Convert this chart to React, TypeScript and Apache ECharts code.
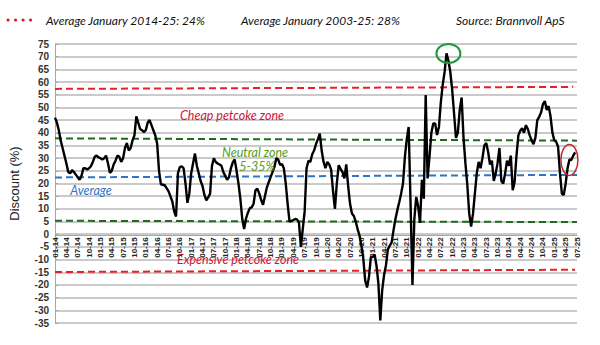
import React, { useEffect, useRef } from "react";
import * as echarts from "echarts";

// Half-monthly observations, Jan 2014 .. Jul 2025 (discount, %)
const discount: number[] = [
  46, 44, 41, 37, 34, 31, 28, 24.5, 24, 25.3, 24.5, 23.5,
  22.5, 21.5, 23, 26, 26, 25.5, 26, 26.8, 28.5, 30.5, 31, 30.3,
  30, 29.5, 30, 31, 28, 24.2, 25, 27.5, 29, 31, 30.5, 28.5,
  30, 34, 36, 33, 34, 37, 39, 46.5, 44, 41.5, 41, 40.3,
  41, 44, 45, 43, 41, 39, 35.8, 25, 19.7, 19.5, 19.3, 18.2,
  17, 15, 13, 9, 7, 24, 26.5, 26.8, 26, 20, 12.4, 16,
  24, 28, 31.8, 27, 24, 21, 19, 15.5, 13.4, 14.5, 16, 27,
  29.9, 28.5, 27.9, 27.5, 27, 24.5, 23, 21.5, 22.5, 26, 28.3, 29.5,
  25, 20, 14, 6, 2, 6.2, 8.5, 10.3, 10.6, 12, 17.4, 18,
  16, 13.5, 11.6, 15, 18.4, 20.5, 22.5, 24.5, 26.5, 30, 29.5, 27.3,
  27.7, 26, 20, 12, 5, 5.3, 5.6, 6, 5.8, 4.5, -5, 2,
  9, 26, 29, 28.5, 31.5, 33, 35.5, 37.5, 39.7, 33, 28.5, 26,
  28.5, 27.5, 25.5, 17, 10, 20, 27.2, 25.8, 24.5, 22, 27.5, 19,
  12, 8.2, 7.2, 5, 2, -0.5, -4.5, -9.5, -18.2, -21, -16.8, -9,
  -9, -8, -12.5, -19.5, -34, -22, -16, -12.2, -6, -4.5, -3.2, 1.6,
  6, 9.5, 12.6, 16, 20, 30.5, 37.5, 42.3, 12, -20, 6, 14.7,
  11, 4.5, 21.5, 14, 54.9, 22, 30.5, 40, 43.7, 43.7, 39.1, 42.3,
  52, 59, 64, 71.3, 68.5, 64, 57, 47.6, 38, 40, 49, 53.9,
  38, 28, 19.5, 8.2, 3, 8, 16, 24, 28.5, 26, 30, 35,
  36, 32.5, 27.5, 29, 21, 24, 28, 34, 21, 20, 24, 29,
  27, 31, 17.4, 20.5, 31, 39, 40.8, 41.8, 40, 43, 41.5, 39,
  37, 35.5, 38, 45, 46.3, 48, 51.3, 52.5, 49, 50.5, 46.5, 40,
  37, 36.4, 34.5, 24, 16, 15.5, 20, 26, 29.5, 29.2, 31, 32.3,
];

const firstYear = 2014;
const periodCount = 277; // half-month slots, Jan 2014 .. first half Jul 2025

// Reference lines (start value, end value)
const refNames = ["Cheap", "NeutralHigh", "Average", "NeutralLow", "Expensive"];
const refStart = [57.3, 37.8, 22.4, 5.3, -14.9];
const refEnd = [58.1, 36.9, 23.4, 4.8, -14.0];
const refEndIdx = [274, 276, 276, 276, 275];
const refColors = ["#e8202a", "#1d6b1d", "#2f74c7", "#1d6b1d", "#e8202a"];

// Highlight ellipses (category index, value)
const peakMark = [208, 71.3];
const latestMark = [271.8, 29.3];

const yTicks = { min: -35, max: 75, interval: 5 };

function buildCategories(): string[] {
  const cats: string[] = [];
  for (let i = 0; i < periodCount; i++) {
    const m = Math.floor(i / 2);
    const y = firstYear + Math.floor(m / 12);
    const mm = (m % 12) + 1;
    cats.push(
      String(mm).padStart(2, "0") + "-" + String(y % 100).padStart(2, "0") + (i % 2 ? "b" : "a")
    );
  }
  return cats;
}

export default function App() {
  const ref = useRef<HTMLDivElement>(null);
  useEffect(() => {
    const chart = echarts.init(ref.current!, undefined, { renderer: "svg" });
    const categories = buildCategories();
    const markData = refNames.map((n, i) => [
      { coord: [0, refStart[i]], lineStyle: { color: refColors[i] } },
      { coord: [refEndIdx[i], refEnd[i]] },
    ]);
    chart.setOption({
      animation: false,
      backgroundColor: "#ffffff",
      grid: { left: 54, right: 23, top: 44, bottom: 22 },
      xAxis: {
        type: "category",
        data: categories,
        boundaryGap: false,
        position: "bottom",
        axisLine: { onZero: false, lineStyle: { color: "#a6a6a6", width: 1 } },
        axisTick: { show: false },
        splitLine: { show: false },
        axisLabel: {
          rotate: 90,
          interval: (idx: number) => idx % 6 === 0,
          formatter: (v: string) => v.slice(0, 5),
          showMinLabel: true,
          showMaxLabel: true,
          hideOverlap: false,
          fontSize: 8,
          fontWeight: "bold",
          fontFamily: "Liberation Sans",
          color: "#222",
          margin: 2,
        },
      },
      yAxis: {
        type: "value",
        min: yTicks.min,
        max: yTicks.max,
        interval: yTicks.interval,
        name: "Discount (%)",
        nameLocation: "middle",
        nameGap: 34,
        nameTextStyle: { fontSize: 13, color: "#222", fontFamily: "Liberation Sans" },
        axisLine: { show: true, lineStyle: { color: "#a6a6a6" } },
        axisTick: { show: true, inside: true, length: 3, lineStyle: { color: "#a6a6a6" } },
        splitLine: { lineStyle: { color: "#b9b9b9", width: 1.5 } },
        axisLabel: {
          fontSize: 10,
          fontWeight: "bold",
          fontFamily: "Liberation Sans",
          color: "#333",
          margin: 6,
        },
      },
      series: [
        {
          type: "line",
          data: discount,
          symbol: "none",
          lineStyle: { color: "#000", width: 2.4 },
          z: 5,
          markLine: {
            silent: true,
            symbol: ["none", "none"],
            label: { show: false },
            lineStyle: { type: [7, 4], width: 2 },
            data: markData,
            z: 3,
          },
        },
      ],
    });

    // move the category axis up to the zero line
    const yZero = chart.convertToPixel({ yAxisIndex: 0 }, 0) as number;
    const yBottom = chart.convertToPixel({ yAxisIndex: 0 }, yTicks.min) as number;
    chart.setOption({ xAxis: { offset: -(yBottom - yZero) } });

    const p1 = chart.convertToPixel({ gridIndex: 0 }, peakMark) as number[];
    const p2 = chart.convertToPixel({ gridIndex: 0 }, latestMark) as number[];
    const italic = (text: string, x: number, y: number, fill: string, size = 12, align = "center") => ({
      type: "text",
      x,
      y,
      style: {
        text,
        fill,
        fontSize: size,
        fontStyle: "italic",
        fontFamily: "Lato",
        align,
        verticalAlign: "middle",
      },
      z: 10,
    });
    chart.setOption({
      graphic: [
        {
          type: "line",
          shape: { x1: 8, y1: 20, x2: 38, y2: 20 },
          style: { stroke: "#d7191f", lineWidth: 3, lineDash: [0.1, 7.4], lineCap: "round" },
        },
        italic("Average January 2014-25: 24%", 46, 20, "#111", 12, "left"),
        italic("Average January 2003-25: 28%", 241, 20, "#111", 12, "left"),
        italic("Source: Brannvoll ApS", 456, 20, "#111", 12, "left"),
        italic("Cheap petcoke zone", 232, 115, "#d1153b", 12.5),
        italic("Neutral zone", 255, 152, "#559c20", 12.5),
        italic("5-35%", 257, 166, "#559c20", 12.5),
        italic("Average", 91, 190, "#2f74c7", 12.5),
        italic("Expensive petcoke zone", 238, 259, "#d1153b", 12.5),
        {
          type: "ellipse",
          shape: { cx: p1[0], cy: p1[1], rx: 12, ry: 9.5 },
          style: { fill: "none", stroke: "#1a9a3a", lineWidth: 2 },
          z: 10,
        },
        {
          type: "ellipse",
          shape: { cx: p2[0], cy: p2[1], rx: 8.5, ry: 15.5 },
          style: { fill: "none", stroke: "#c0282d", lineWidth: 1.5 },
          z: 10,
        },
      ],
    });
    return () => chart.dispose();
  }, []);
  return (
    <div
      ref={ref}
      style={{ position: "fixed", left: 0, top: 0, width: 600, height: 345, background: "#fff" }}
    />
  );
}
